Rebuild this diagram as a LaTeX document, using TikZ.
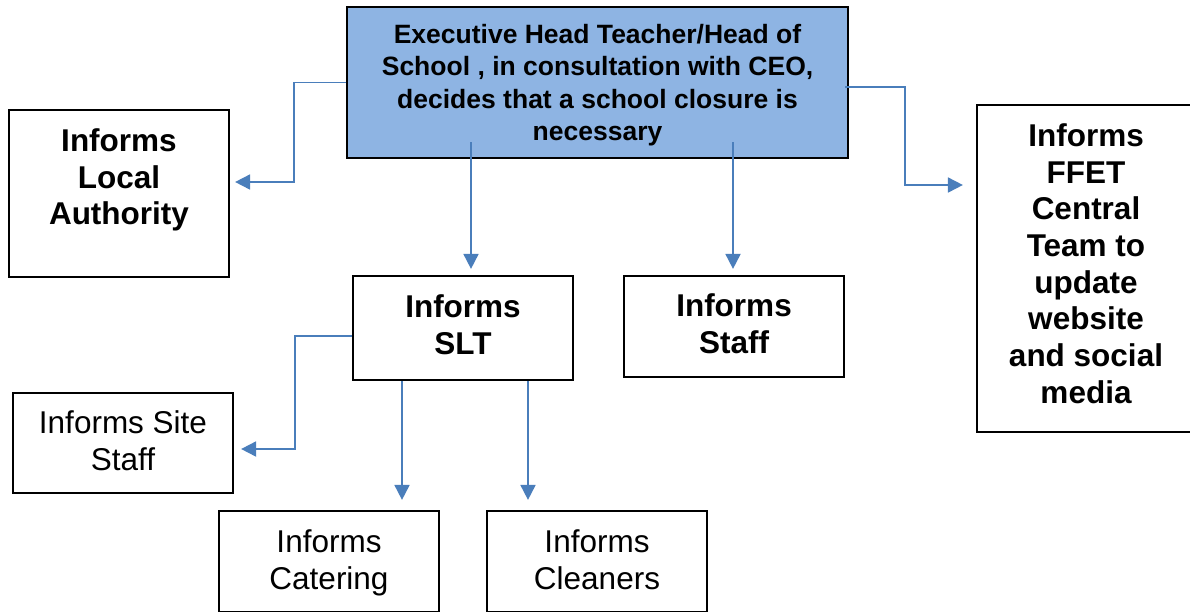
\documentclass[tikz,border=0pt]{standalone}
\usepackage{fontspec}
\setmainfont{Liberation Sans}
\usetikzlibrary{arrows.meta}
\definecolor{topfill}{RGB}{142,180,227}
\definecolor{arrblue}{RGB}{74,126,187}
\tikzset{
  box/.style={draw=black, line width=2.2pt, fill=white, inner sep=0pt},
  topbox/.style={box, fill=topfill},
  toptxt/.style={plain, font=\bfseries\fontsize{26.5}{32.5}\selectfont},
  boldtxt/.style={plain, font=\bfseries\fontsize{31.5}{36.7}\selectfont},
  regtxt/.style={plain, font=\fontsize{31.5}{37}\selectfont},
  plain/.style={align=center, inner sep=0pt},
  arr/.style={draw=arrblue, line width=1.8pt, -{Triangle[length=15pt,width=15pt]}}
}
\begin{document}
\begin{tikzpicture}[x=1pt,y=-1pt]
\clip (0,0) rectangle (1190,611);
\fill[white] (0,0) rectangle (1190,611);
% boxes
\node[topbox, minimum width=501pt, minimum height=151pt] (top) at (597.5,82.5) {};
\node[toptxt] (toptext) at ([yshift=-2.5pt]top.center)
  {Executive Head Teacher/Head of\\School , in consultation with CEO,\\decides that a school closure is\\necessary};
\node[box, minimum width=220pt, minimum height=167pt] (la) at (119,193.5) {};
\node[boldtxt] (latext) at (119,180) {Informs\\Local\\Authority};
\node[box, minimum width=218pt, minimum height=327pt] (ffet) at (1086,268.5) {};
\node[boldtxt] (ffettext) at ([yshift=5pt]ffet.center)
  {Informs\\FFET\\Central\\Team to\\update\\website\\and social\\media};
\node[box, minimum width=220pt, minimum height=104pt] (slt) at (463,328) {};
\node[boldtxt] (slttext) at ([yshift=3pt]slt.center) {Informs\\SLT};
\node[box, minimum width=220pt, minimum height=101pt] (staff) at (734,326.5) {};
\node[boldtxt] (stafftext) at ([yshift=3pt]staff.center) {Informs\\Staff};
\node[box, minimum width=220pt, minimum height=100pt] (site) at (123,443) {};
\node[regtxt] (sitetext) at ([yshift=2pt]site.center) {Informs Site\\Staff};
\node[box, minimum width=220pt, minimum height=101pt] (cat) at (329,561.5) {};
\node[regtxt] (cattext) at ([yshift=-1.5pt]cat.center) {Informs\\Catering};
\node[box, minimum width=220pt, minimum height=101pt] (clean) at (597,561.5) {};
\node[regtxt] (cleantext) at ([yshift=2pt]clean.center) {Informs\\Cleaners};
% connectors
\draw[arr] (top.west) -- ++(-52,0) |- ([xshift=5pt,yshift=11.5pt]la.east);
\draw[arr] ([xshift=-4pt,yshift=-4.5pt]top.east) -- ++(60,0) |- ([xshift=-13pt,yshift=83.5pt]ffet.west);
\draw[arr] ([xshift=-126.5pt,yshift=17pt]top.south) -- ([xshift=8pt,yshift=6pt]slt.north);
\draw[arr] ([xshift=135.5pt,yshift=17pt]top.south) -- ([xshift=-1pt,yshift=6pt]staff.north);
\draw[arr] ([yshift=-8pt]slt.west) -- ++(-57,0) |- ([xshift=7pt,yshift=-6pt]site.east);
\draw[arr] ([xshift=-61pt]slt.south) -- ([xshift=73pt,yshift=10pt]cat.north);
\draw[arr] ([xshift=65pt]slt.south) -- ([xshift=-69pt,yshift=10pt]clean.north);
\end{tikzpicture}
\end{document}
